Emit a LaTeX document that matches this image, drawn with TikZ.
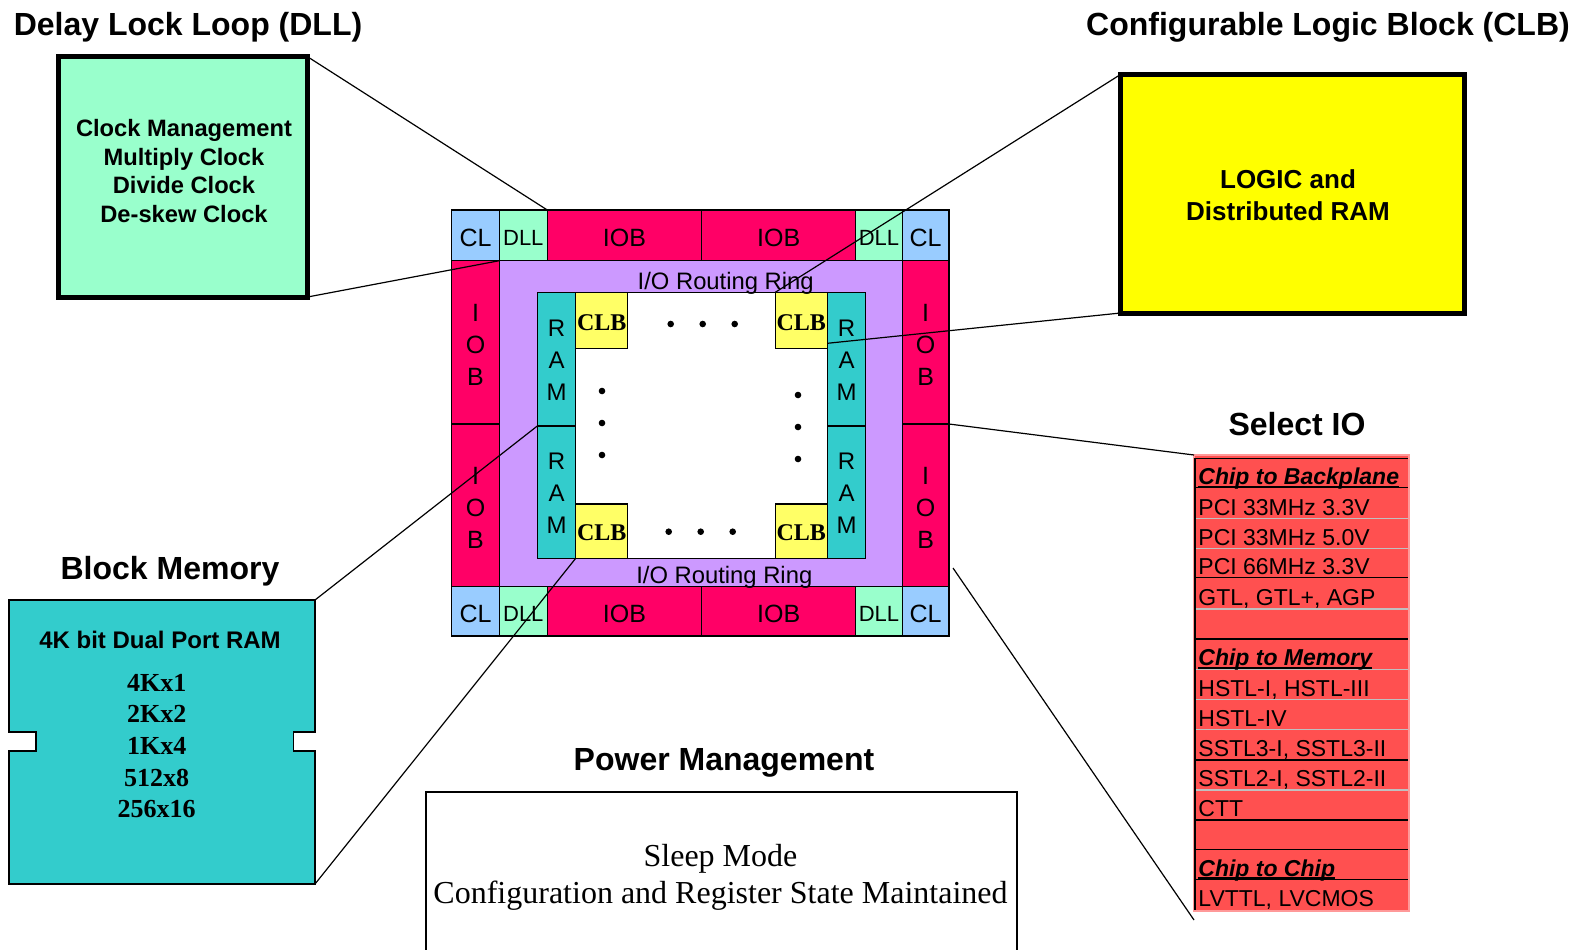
\documentclass[tikz,border=0pt]{standalone}
\usepackage{fontspec}
\setmainfont{Liberation Serif}
\setsansfont{Liberation Sans}
\usetikzlibrary{calc}
\definecolor{clblue}{HTML}{99CCFF}
\definecolor{dllgreen}{HTML}{99FFCC}
\definecolor{iobred}{HTML}{FF0066}
\definecolor{ringpurple}{HTML}{CC99FF}
\definecolor{ramteal}{HTML}{33CCCC}
\definecolor{clbyellow}{HTML}{FFFF66}
\definecolor{bigyellow}{HTML}{FFFF00}
\definecolor{tablered}{HTML}{FF5050}
\definecolor{tablepink}{HTML}{FF9999}
\definecolor{rowgrey}{HTML}{C0C0C0}
% name, x1, y1, x2, y2, style, text
\newcommand\blk[7]{\node[#6, anchor=north west, minimum width={(#4-#2)*0.5pt}, minimum height={(#5-#3)*0.5pt}] (#1) at (#2,#3) {#7};}
% lower glyphs without changing the box size
\newcommand\dn[2][1.5pt]{\raisebox{-#1}[\height][\depth]{#2}}
% underlined header
\newcommand\hdr[1]{\setbox0\hbox{\bfseries\itshape #1}\rlap{\rule[-1.4pt]{\wd0}{0.7pt}}\box0}
\tikzset{
  cellbase/.style={draw, line width=0.6pt, inner sep=0pt, outer sep=0pt},
  clcell/.style={cellbase, fill=clblue, font=\sffamily\fontsize{12.5}{15}\selectfont},
  dllcell/.style={cellbase, fill=dllgreen, font=\sffamily\fontsize{11}{13}\selectfont},
  iobcell/.style={cellbase, fill=iobred, font=\sffamily\fontsize{12.5}{15}\selectfont},
  iobvcell/.style={cellbase, fill=iobred, align=center, font=\sffamily\fontsize{12.5}{16}\selectfont},
  ringcell/.style={cellbase, fill=ringpurple},
  innercell/.style={cellbase, fill=white},
  ramcell/.style={cellbase, fill=ramteal, align=center, font=\sffamily\fontsize{12}{16}\selectfont},
  clbcell/.style={cellbase, fill=clbyellow, font=\rmfamily\bfseries\fontsize{12}{14}\selectfont},
  ringtext/.style={inner sep=0pt, font=\sffamily\fontsize{11.9}{14}\selectfont},
  bigbox/.style={draw, line width=2.5pt, inner sep=0pt, outer sep=0pt},
  title/.style={inner sep=0pt, font=\sffamily\bfseries\fontsize{16}{19}\selectfont},
  conn/.style={draw, line width=0.6pt},
  siotext/.style={inner sep=0pt, anchor=base west, font=\sffamily\fontsize{11.5}{13}\selectfont},
  dotmark/.style={fill=black},
}
\begin{document}
\begin{tikzpicture}[x=0.5pt,y=-0.5pt]
\useasboundingbox (0,0) rectangle (1590,949);
\fill[white] (0,0) rectangle (1590,949);

% titles
\node[title] (ttldll) at (188,27.5) {Delay Lock Loop (DLL)};
\node[title] (ttlclb) at (1328,27) {Configurable Logic Block (CLB)};
\node[title] (ttlsio) at (1297,424) {Select IO};
\node[title] (ttlbm) at (170,571) {Block Memory};
\node[title] (ttlpm) at (724,763) {Power Management};

% DLL callout box
\blk{dllbox}{58.3}{56.7}{307.5}{297}{bigbox, fill=dllgreen}{}
\node[inner sep=0pt, align=center, font=\sffamily\bfseries\fontsize{11.85}{14.2}\selectfont] (dlltxt) at (184,171) {Clock Management\\Multiply Clock\\Divide Clock\\De-skew Clock};

% CLB callout box
\blk{clbbox}{1120.5}{74.5}{1464}{313}{bigbox, fill=bigyellow}{}
\node[inner sep=0pt, align=center, font=\sffamily\bfseries\fontsize{13}{15.75}\selectfont] (clbtxt) at (1288,195) {LOGIC and\\Distributed RAM};

% chip
\blk{ring}{499.3}{260.7}{902.3}{586.7}{ringcell}{}
\blk{inner}{537.3}{292.3}{865.7}{558.3}{innercell}{}
\blk{clTL}{451.7}{210}{499.3}{260.7}{clcell}{\dn{CL}}
\blk{dllTL}{499.3}{210}{547.3}{260.7}{dllcell}{\dn{DLL}}
\blk{iobT1}{547.3}{210}{701.7}{260.7}{iobcell}{\dn{IOB}}
\blk{iobT2}{701.7}{210}{855.7}{260.7}{iobcell}{\dn{IOB}}
\blk{dllTR}{855.7}{210}{902.3}{260.7}{dllcell}{\dn{DLL}}
\blk{clTR}{902.3}{210}{949}{260.7}{clcell}{\dn{CL}}
\blk{clBL}{451.7}{586.7}{499.3}{636}{clcell}{\dn{CL}}
\blk{dllBL}{499.3}{586.7}{547.3}{636}{dllcell}{\dn{DLL}}
\blk{iobB1}{547.3}{586.7}{701.7}{636}{iobcell}{\dn{IOB}}
\blk{iobB2}{701.7}{586.7}{855.7}{636}{iobcell}{\dn{IOB}}
\blk{dllBR}{855.7}{586.7}{902.3}{636}{dllcell}{\dn{DLL}}
\blk{clBR}{902.3}{586.7}{949}{636}{clcell}{\dn{CL}}
\blk{iobL1}{451.7}{260.7}{499.3}{424}{iobvcell}{\dn{I}\\\dn{O}\\\dn{B}}
\blk{iobL2}{451.7}{424}{499.3}{586.7}{iobvcell}{\dn{I}\\\dn{O}\\\dn{B}}
\blk{iobR1}{902.3}{260.7}{949}{424}{iobvcell}{\dn{I}\\\dn{O}\\\dn{B}}
\blk{iobR2}{902.3}{424}{949}{586.7}{iobvcell}{\dn{I}\\\dn{O}\\\dn{B}}
\blk{ramL1}{537.3}{292.3}{575.7}{426}{ramcell}{\dn[0.7pt]{R}\\\dn[0.7pt]{A}\\\dn[0.7pt]{M}}
\blk{ramL2}{537.3}{426}{575.7}{558.3}{ramcell}{\dn[0.7pt]{R}\\\dn[0.7pt]{A}\\\dn[0.7pt]{M}}
\blk{ramR1}{827.3}{292.3}{865.7}{426}{ramcell}{\dn[0.7pt]{R}\\\dn[0.7pt]{A}\\\dn[0.7pt]{M}}
\blk{ramR2}{827.3}{426}{865.7}{558.3}{ramcell}{\dn[0.7pt]{R}\\\dn[0.7pt]{A}\\\dn[0.7pt]{M}}
\blk{clbTL}{575.7}{292.3}{627.7}{348.3}{clbcell}{\dn[1pt]{CLB}}
\blk{clbBL}{575.7}{504}{627.7}{558.3}{clbcell}{\dn[1pt]{CLB}}
\blk{clbTR}{775.3}{292.3}{827.3}{348.3}{clbcell}{\dn[1pt]{CLB}}
\blk{clbBR}{775.3}{504}{827.3}{558.3}{clbcell}{\dn[1pt]{CLB}}
\node[ringtext] (ringT) at (725.7,283.5) {I/O Routing Ring};
\node[ringtext] (ringB) at (724.3,577.5) {I/O Routing Ring};
\foreach \px/\py in {670.7/324, 702.7/324, 734.7/324, 668.7/531.7, 700.7/531.7, 732.7/531.7,
  602/391, 602/423, 602/455, 798/395, 798/427, 798/459}
  \fill[dotmark] (\px,\py) circle (1.65pt);

% Block memory
\draw[fill=ramteal, line width=0.6pt] (9,600) coordinate (bmNW) -- (315,600) coordinate (bmNE)
  -- (315,732) -- (293.3,732) -- (293.3,751) -- (315,751) -- (315,884) coordinate (bmSE)
  -- (9,884) -- (9,751) -- (36,751) -- (36,732) -- (9,732) -- cycle;
\node[inner sep=0pt, font=\sffamily\bfseries\fontsize{12}{14}\selectfont] (bmhead) at (160,639.5) {4K bit Dual Port RAM};
\node[inner sep=0pt, align=center, font=\rmfamily\bfseries\fontsize{13}{15.85}\selectfont] (bmorg) at (156.7,746) {4Kx1\\2Kx2\\1Kx4\\512x8\\256x16};

% Power management
\blk{power}{426}{792}{1017}{975}{cellbase}{}
\node[inner sep=0pt, align=center, font=\rmfamily\fontsize{16}{18.5}\selectfont] (pmtxt) at (720.5,877.5) {Sleep Mode\\Configuration and Register State Maintained};

% Select IO table
\blk{selio}{1194}{455}{1409}{911}{draw=tablepink, fill=tablered, line width=1.2pt, inner sep=0pt, outer sep=0pt}{}
\foreach \yy/\cc in {458.3/black, 487.7/black, 518.3/rowgrey, 548.3/rowgrey, 577.7/black, 609/rowgrey,
  639/black, 669.3/rowgrey, 699.3/rowgrey, 729.3/rowgrey, 760/black, 790/rowgrey, 820/black,
  849.3/black, 879.3/black}
  \draw[\cc, line width=0.7pt] (1194.5,\yy) -- (1408,\yy);
\draw[black, line width=0.8pt] (1195,458.3) -- (1195,910);
\node[siotext] (r1) at (1198,484.4) {\hdr{Chip to Backplane}};
\node[siotext] (r2) at (1198,515) {PCI 33MHz 3.3V};
\node[siotext] (r3) at (1198,545) {PCI 33MHz 5.0V};
\node[siotext] (r4) at (1198,574.4) {PCI 66MHz 3.3V};
\node[siotext] (r5) at (1198,605.7) {GTL, GTL+, AGP};
\node[siotext] (r7) at (1198,665.7) {\hdr{Chip to Memory}};
\node[siotext] (r8) at (1198,696) {HSTL-I, HSTL-III};
\node[siotext] (r9) at (1198,726) {HSTL-IV};
\node[siotext] (r10) at (1198,756.7) {SSTL3-I, SSTL3-II};
\node[siotext] (r11) at (1198,786.7) {SSTL2-I, SSTL2-II};
\node[siotext] (r12) at (1198,816.7) {CTT};
\node[siotext] (r14) at (1198,876) {\hdr{Chip to Chip}};
\node[siotext] (r15) at (1198,906.7) {LVTTL, LVCMOS};

% connectors
\draw[conn] (dllbox.north east) -- (iobT1.north west);
\draw[conn] (dllbox.south east) -- (ring.north west);
\draw[conn] (clbbox.north west) -- (clbTR.north west);
\draw[conn] (clbbox.south west) -- ($(clbTR.south east)+(0,-5)$);
\draw[conn] (iobR1.south east) -- (selio.north west);
\draw[conn] ($(iobR2.south east)+(4,-18.7)$) -- ($(selio.south west)+(0,9)$);
\draw[conn] (bmNE) -- (ramL1.south west);
\draw[conn] (bmSE) -- (clbBL.south west);
\end{tikzpicture}
\end{document}
